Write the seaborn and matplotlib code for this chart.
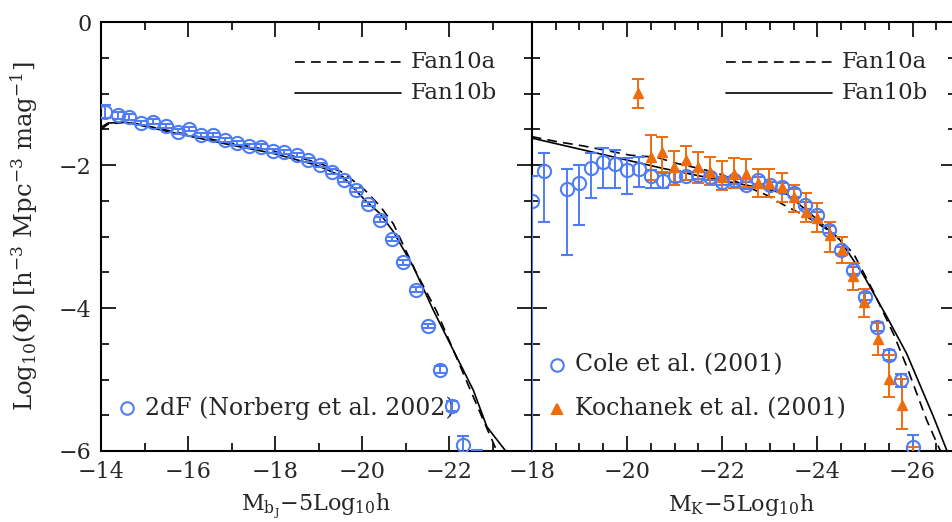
import matplotlib
matplotlib.use("Agg")
import matplotlib.pyplot as plt
from matplotlib.ticker import MultipleLocator
import numpy as np
import pandas as pd
import seaborn as sns

# ---- 2dF bJ-band luminosity function (Norberg et al. 2002) ----
mag_2df = [-14.09, -14.38, -14.65, -14.92, -15.20, -15.49, -15.76, -16.02,
           -16.31, -16.58, -16.85, -17.12, -17.40, -17.67, -17.95, -18.21,
           -18.50, -18.77, -19.03, -19.30, -19.59, -19.86, -20.13, -20.41,
           -20.68, -20.95, -21.24, -21.52, -21.79, -22.06, -22.33, -22.64]
phi_2df = [-1.25, -1.30, -1.33, -1.41, -1.39, -1.45, -1.53, -1.49,
           -1.58, -1.58, -1.65, -1.69, -1.73, -1.74, -1.80, -1.82,
           -1.86, -1.93, -2.00, -2.09, -2.21, -2.35, -2.54, -2.76,
           -3.03, -3.36, -3.74, -4.25, -4.86, -5.37, -5.92, -6.12]
err_2df = [0.09, 0.05, 0.04, 0.03, 0.03, 0.03, 0.03, 0.03,
           0.03, 0.03, 0.03, 0.03, 0.03, 0.03, 0.03, 0.03,
           0.03, 0.03, 0.03, 0.03, 0.03, 0.03, 0.03, 0.03,
           0.03, 0.03, 0.03, 0.03, 0.05, 0.07, 0.13, 0.13]

# ---- model curves, bJ band ----
mag_fan10a_b = [-14.00, -14.15, -14.60, -15.74, -16.81, -17.96, -18.96, -19.56,
                -20.07, -20.41, -20.72, -21.22, -21.72, -22.79, -23.10, -23.30]
phi_fan10a_b = [-1.50, -1.43, -1.39, -1.54, -1.67, -1.80, -1.96, -2.10,
                -2.35, -2.57, -2.82, -3.47, -4.05, -5.57, -6.00, -6.30]
mag_fan10b_b = [-14.00, -14.16, -14.59, -15.74, -16.81, -17.96, -18.96, -19.56,
                -20.07, -20.41, -20.72, -21.18, -21.64, -22.10, -22.56, -22.87,
                -23.29, -23.52]
phi_fan10b_b = [-1.47, -1.41, -1.40, -1.555, -1.695, -1.835, -2.00, -2.16,
                -2.49, -2.675, -2.93, -3.42, -4.03, -4.59, -5.15, -5.66,
                -5.99, -6.16]

# ---- K-band: Cole et al. (2001) ----
mag_cole = [-18.00, -18.25, -18.75, -19.00, -19.25, -19.50, -19.75, -20.00,
            -20.25, -20.50, -20.75, -21.00, -21.25, -21.50, -21.75, -22.00,
            -22.25, -22.50, -22.75, -23.00, -23.25, -23.50, -23.75, -24.00,
            -24.25, -24.50, -24.75, -25.00, -25.25, -25.50, -25.75, -26.00]
phi_cole = [-2.50, -2.08, -2.33, -2.25, -2.04, -1.95, -1.98, -2.07,
            -2.06, -2.15, -2.22, -2.15, -2.15, -2.14, -2.16, -2.23,
            -2.21, -2.28, -2.21, -2.28, -2.30, -2.39, -2.56, -2.70,
            -2.90, -3.19, -3.47, -3.84, -4.26, -4.66, -5.01, -5.94]
err_lo_cole = [4.00, 0.72, 0.93, 0.59, 0.42, 0.37, 0.34, 0.33,
               0.24, 0.17, 0.10, 0.08, 0.06, 0.05, 0.05, 0.05,
               0.05, 0.05, 0.05, 0.05, 0.05, 0.05, 0.05, 0.05,
               0.05, 0.05, 0.05, 0.05, 0.06, 0.07, 0.09, 0.16]
err_hi_cole = [0.35, 0.25, 0.27, 0.25, 0.21, 0.19, 0.19, 0.17,
               0.17, 0.08, 0.11, 0.07, 0.06, 0.05, 0.05, 0.05,
               0.05, 0.05, 0.05, 0.05, 0.05, 0.05, 0.05, 0.05,
               0.05, 0.05, 0.05, 0.05, 0.06, 0.07, 0.09, 0.16]

# ---- K-band: Kochanek et al. (2001) ----
mag_koch = [-20.23, -20.50, -20.74, -20.99, -21.24, -21.49, -21.75, -21.99,
            -22.25, -22.50, -22.75, -22.99, -23.25, -23.51, -23.76, -23.99,
            -24.27, -24.51, -24.76, -24.99, -25.28, -25.51, -25.77, -26.00]
phi_koch = [-0.99, -1.89, -1.81, -2.02, -1.93, -2.02, -2.09, -2.16,
            -2.12, -2.12, -2.25, -2.25, -2.31, -2.44, -2.65, -2.745,
            -2.98, -3.19, -3.55, -3.91, -4.43, -4.99, -5.36, -6.40]
err_lo_koch = [0.21, 0.32, 0.28, 0.26, 0.28, 0.23, 0.19, 0.19,
               0.20, 0.18, 0.19, 0.19, 0.20, 0.21, 0.14, 0.185,
               0.23, 0.185, 0.20, 0.21, 0.23, 0.25, 0.33, 0.40]
err_hi_koch = [0.19, 0.31, 0.21, 0.22, 0.20, 0.21, 0.21, 0.22,
               0.22, 0.20, 0.20, 0.20, 0.20, 0.16, 0.26, 0.21,
               0.19, 0.19, 0.175, 0.18, 0.22, 0.33, 0.37, 0.45]

# ---- model curves, K band ----
mag_fan10a_k = [-18.00, -18.53, -19.08, -20.07, -20.63, -21.05, -21.61, -22.03,
                -22.45, -22.94, -23.36, -23.78, -24.34, -24.76, -25.18, -25.60,
                -25.88, -26.30, -26.58, -26.72]
phi_fan10a_k = [-1.60, -1.67, -1.73, -1.86, -1.89, -1.975, -2.06, -2.14,
                -2.28, -2.42, -2.58, -2.72, -2.955, -3.235, -3.77, -4.36,
                -4.82, -5.57, -5.99, -6.20]
mag_fan10b_k = [-18.00, -20.76, -21.89, -22.87, -23.36, -23.85, -24.48, -24.97,
                -25.46, -25.88, -26.44, -26.72, -26.85]
phi_fan10b_k = [-1.62, -2.045, -2.20, -2.325, -2.405, -2.675, -3.05, -3.54,
                -4.12, -4.64, -5.52, -5.99, -6.20]

BLUE = "#4f7cf7"
ORANGE = "#ee6c0c"

sns.set_theme(style="ticks")
plt.rcParams["font.family"] = ["DejaVu Serif"]
plt.rcParams["mathtext.fontset"] = "dejavuserif"
plt.rcParams["lines.scale_dashes"] = False

fig = plt.figure(figsize=(9.52, 5.22), dpi=100)
W, H = 952.0, 522.0
x0, x1, x2 = 101.0, 531.7, 956.0
ytop, ybot = 22.3, 451.0
axL = fig.add_axes([x0 / W, 1 - ybot / H, (x1 - x0) / W, (ybot - ytop) / H])
axR = fig.add_axes([x1 / W, 1 - ybot / H, (x2 - x1) / W, (ybot - ytop) / H])

left_px = 43.5   # pixels per magnitude, bJ panel
right_px = 47.6  # pixels per magnitude, K panel
axL.set_xlim(-14, -14 - (x1 - x0) / left_px)
axR.set_xlim(-18, -18 - (x2 - x1) / right_px)
for ax in (axL, axR):
    ax.set_ylim(-6, 0)


def draw_models(ax, ma, pa, mb, pb):
    da = pd.DataFrame({"mag": ma, "phi": pa})
    db = pd.DataFrame({"mag": mb, "phi": pb})
    sns.lineplot(data=da, x="mag", y="phi", ax=ax, color="black", lw=1.2,
                 sort=False, estimator=None, dashes=False, zorder=2)
    ax.lines[-1].set_dashes((7, 4.5))
    sns.lineplot(data=db, x="mag", y="phi", ax=ax, color="black", lw=1.2,
                 sort=False, estimator=None, zorder=2)


draw_models(axL, mag_fan10a_b, phi_fan10a_b, mag_fan10b_b, phi_fan10b_b)
draw_models(axR, mag_fan10a_k, phi_fan10a_k, mag_fan10b_k, phi_fan10b_k)

eb_kw = dict(ls="none", elinewidth=1.4, capsize=4.5, capthick=1.4, zorder=3)
axL.errorbar(mag_2df, phi_2df, yerr=err_2df, fmt="o", ms=9.5, mfc="none",
             mec=BLUE, mew=1.5, ecolor=BLUE, **eb_kw)
axR.errorbar(mag_cole, phi_cole, yerr=[err_lo_cole, err_hi_cole], fmt="o",
             ms=9.5, mfc="none", mec=BLUE, mew=1.5, ecolor=BLUE, **eb_kw)
axR.errorbar(mag_koch, phi_koch, yerr=[err_lo_koch, err_hi_koch], fmt="^",
             ms=7, mfc=ORANGE, mec=ORANGE, ecolor=ORANGE, **eb_kw)

# axes styling
for ax, minor_x in ((axL, 1.0), (axR, 0.5)):
    ax.xaxis.set_major_locator(MultipleLocator(2))
    ax.xaxis.set_minor_locator(MultipleLocator(minor_x))
    ax.yaxis.set_major_locator(MultipleLocator(2))
    ax.yaxis.set_minor_locator(MultipleLocator(0.5))
    ax.tick_params(which="both", direction="in", top=True, right=True,
                   bottom=True, left=True, color="black")
    ax.tick_params(which="major", length=11, width=1.2, labelsize=16, pad=7)
    ax.tick_params(which="minor", length=6, width=1.2)
    for s in ax.spines.values():
        s.set_linewidth(1.5)
        s.set_color("black")
    ax.set_facecolor("white")
    ax.set_xlabel("")
    ax.set_ylabel("")

axR.tick_params(labelleft=False)

axL.set_ylabel(r"Log$_{10}$($\Phi$) [h$^{-3}$ Mpc$^{-3}$ mag$^{-1}$]",
               fontsize=17.5)
axL.yaxis.set_label_coords(-0.142, 0.5)
axL.set_xlabel(r"M$_{\mathregular{b_J}}$$-$5Log$_{10}$h", fontsize=16)
axR.set_xlabel(r"M$_{\mathregular{K}}$$-$5Log$_{10}$h", fontsize=16)
for ax in (axL, axR):
    ax.xaxis.set_label_coords(0.5 if ax is axL else (741 - x1) / (x2 - x1), -0.095)


def px_to_axes(ax, px, py, xa, xb):
    return (px - xa) / (xb - xa), (ybot - py) / (ybot - ytop)


# model key, upper right of each panel
for ax, xa, xb, lx0, lx1, tx in ((axL, x0, x1, 295, 401, 411),
                                  (axR, x1, x2, 726, 832, 842)):
    for py, label, dashed in ((62.3, "Fan10a", True), (93.3, "Fan10b", False)):
        a0, b0 = px_to_axes(ax, lx0, py, xa, xb)
        a1, _ = px_to_axes(ax, lx1, py, xa, xb)
        ln, = ax.plot([a0, a1], [b0, b0], transform=ax.transAxes,
                      color="black", lw=1.2, clip_on=False)
        if dashed:
            ln.set_dashes((7, 4.5))
        at, _ = px_to_axes(ax, tx, py, xa, xb)
        ax.text(at, b0, label, transform=ax.transAxes, fontsize=16.5,
                va="center", ha="left")

# data keys
for ax, xa, xb, py, mk, col, fill, label in (
        (axL, x0, x1, 408.3, "o", BLUE, "none", "2dF (Norberg et al. 2002)"),
        (axR, x1, x2, 365.0, "o", BLUE, "none", "Cole et al. (2001)"),
        (axR, x1, x2, 409.0, "^", ORANGE, ORANGE, "Kochanek et al. (2001)")):
    mx = 127.3 if ax is axL else 556.7
    tx = 145.0 if ax is axL else 575.0
    am, bm = px_to_axes(ax, mx, py, xa, xb)
    at, _ = px_to_axes(ax, tx, py, xa, xb)
    ax.plot([am], [bm], marker=mk, ms=9 if mk == "o" else 7, mfc=fill,
            mec=col, mew=1.5, transform=ax.transAxes, ls="none")
    ax.text(at, bm, label, transform=ax.transAxes, fontsize=17,
            va="center", ha="left", clip_on=False, zorder=1)

fig.savefig("out.png", dpi=100, facecolor="white")
